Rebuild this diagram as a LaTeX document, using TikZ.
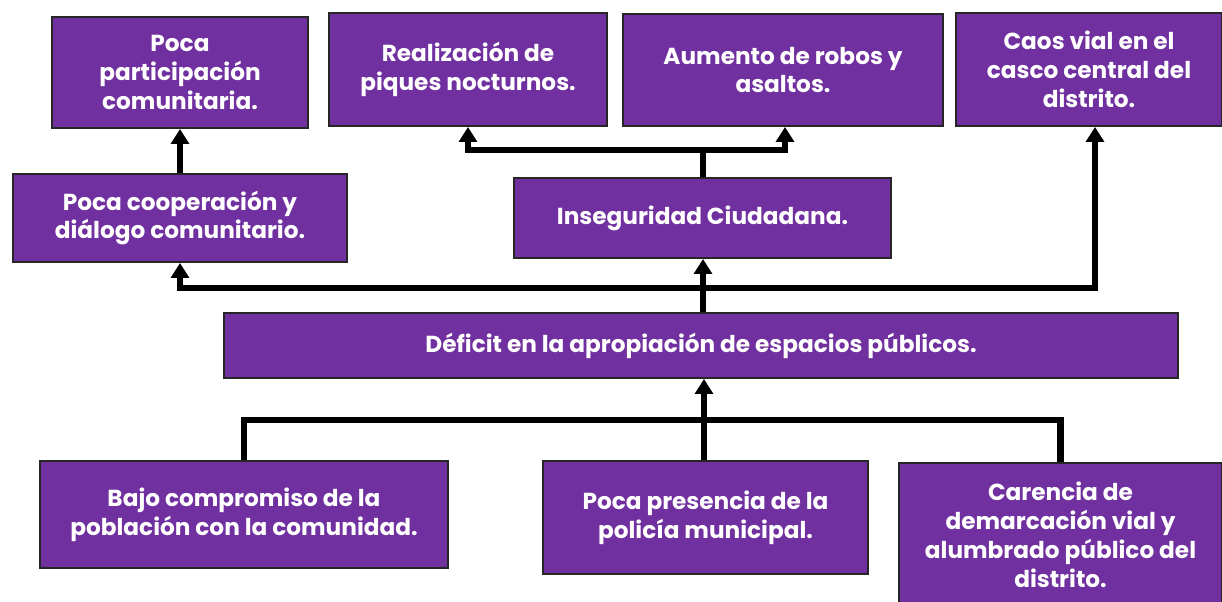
\documentclass[tikz,border=0pt]{standalone}
\usepackage{fontspec}
\setmainfont{Poppins}
\usetikzlibrary{arrows.meta}
\definecolor{boxpurple}{HTML}{7030A0}
\tikzset{
  box/.style={draw=black!85, line width=1.4pt, fill=boxpurple, text=white, align=center,
    font=\fontsize{16.5}{20.5}\selectfont\bfseries, inner sep=0pt},
  conn/.style={line width=4.3pt, line join=miter, draw=black},
  arr/.style={conn, -{Triangle[width=12.5pt,length=10.5pt]}}
}
\begin{document}
\begin{tikzpicture}[x=0.025cm,y=-0.025cm]
\useasboundingbox (0,0) rectangle (1222,601);
% top row
\node[box, minimum width=256*0.025cm, minimum height=111*0.025cm] (pp) at (180,72.5) {Poca\\participación\\comunitaria.};
\node[box, minimum width=278*0.025cm, minimum height=113*0.025cm] (rp) at (468,69.5) {Realización de\\piques nocturnos.};
\node[box, minimum width=320*0.025cm, minimum height=112*0.025cm] (ar) at (783,70) {Aumento de robos y\\asaltos.};
\node[box, minimum width=266*0.025cm, minimum height=113*0.025cm] (cv) at (1089,69.5) {Caos vial en el\\casco central del\\distrito.};
% second row
\node[box, minimum width=334*0.025cm, minimum height=88*0.025cm] (pc) at (180,218) {Poca cooperación y\\diálogo comunitario.};
\node[box, minimum width=377*0.025cm, minimum height=80*0.025cm] (ic) at (702.5,218) {Inseguridad Ciudadana.};
% middle
\node[box, minimum width=954*0.025cm, minimum height=65*0.025cm] (df) at (701,345.5) {Déficit en la apropiación de espacios públicos.};
% bottom row
\node[box, minimum width=408*0.025cm, minimum height=107*0.025cm] (bc) at (244,514.5) {Bajo compromiso de la\\población con la comunidad.};
\node[box, minimum width=325*0.025cm, minimum height=113*0.025cm] (pr) at (705.5,517.5) {Poca presencia de la\\policía municipal.};
\node[box, minimum width=323*0.025cm, minimum height=144*0.025cm] (ca) at (1060.5,535) {Carencia de\\demarcación vial y\\alumbrado público del\\distrito.};
% connectors
\draw[arr] (pc.north) -- (pp.south);
\coordinate (j1) at (703,150);
\draw[conn] (ic.north -| j1) -- (j1);
\draw[arr] (j1) -| (rp.south);
\draw[arr] (j1) -| ([xshift=2*0.025cm]ar.south);
\draw[arr] (df.north -| j1) -- (ic.south -| j1);
\coordinate (j2) at (703,288);
\draw[arr] (j2) -| (pc.south);
\draw[arr] (j2) -| ([xshift=6*0.025cm]cv.south);
\coordinate (j3) at (704,420);
\draw[conn] (bc.north) |- (j3) -| (ca.north);
\draw[arr] (pr.north -| j3) -- (df.south -| j3);
\end{tikzpicture}
\end{document}
